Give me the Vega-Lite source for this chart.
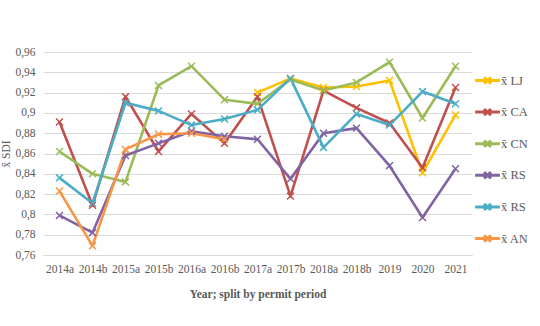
{
  "$schema": "https://vega.github.io/schema/vega-lite/v6.json",
  "width": 429,
  "height": 203,
  "autosize": {"type": "none"},
  "padding": {"left": 43, "top": 52, "right": 68, "bottom": 71},
  "background": "white",
  "config": {
    "font": "Liberation Serif",
    "view": {"stroke": null},
    "axis": {"labelColor": "#595959", "titleColor": "#595959", "labelFont": "Liberation Serif", "titleFont": "Liberation Serif"}
  },
  "data": {"values": [
    {"p":"2017a","s":"LJ","v":0.920},{"p":"2017b","s":"LJ","v":0.934},{"p":"2018a","s":"LJ","v":0.925},{"p":"2018b","s":"LJ","v":0.926},{"p":"2019","s":"LJ","v":0.932},{"p":"2020","s":"LJ","v":0.841},{"p":"2021","s":"LJ","v":0.898},
    {"p":"2014a","s":"CA","v":0.891},{"p":"2014b","s":"CA","v":0.809},{"p":"2015a","s":"CA","v":0.916},{"p":"2015b","s":"CA","v":0.862},{"p":"2016a","s":"CA","v":0.899},{"p":"2016b","s":"CA","v":0.870},{"p":"2017a","s":"CA","v":0.916},{"p":"2017b","s":"CA","v":0.818},{"p":"2018a","s":"CA","v":0.922},{"p":"2018b","s":"CA","v":0.905},{"p":"2019","s":"CA","v":0.890},{"p":"2020","s":"CA","v":0.846},{"p":"2021","s":"CA","v":0.925},
    {"p":"2014a","s":"CN","v":0.862},{"p":"2014b","s":"CN","v":0.840},{"p":"2015a","s":"CN","v":0.832},{"p":"2015b","s":"CN","v":0.927},{"p":"2016a","s":"CN","v":0.946},{"p":"2016b","s":"CN","v":0.913},{"p":"2017a","s":"CN","v":0.909},{"p":"2017b","s":"CN","v":0.933},{"p":"2018a","s":"CN","v":0.922},{"p":"2018b","s":"CN","v":0.930},{"p":"2019","s":"CN","v":0.950},{"p":"2020","s":"CN","v":0.895},{"p":"2021","s":"CN","v":0.946},
    {"p":"2014a","s":"RS1","v":0.799},{"p":"2014b","s":"RS1","v":0.782},{"p":"2015a","s":"RS1","v":0.858},{"p":"2015b","s":"RS1","v":0.870},{"p":"2016a","s":"RS1","v":0.882},{"p":"2016b","s":"RS1","v":0.877},{"p":"2017a","s":"RS1","v":0.874},{"p":"2017b","s":"RS1","v":0.835},{"p":"2018a","s":"RS1","v":0.880},{"p":"2018b","s":"RS1","v":0.885},{"p":"2019","s":"RS1","v":0.848},{"p":"2020","s":"RS1","v":0.797},{"p":"2021","s":"RS1","v":0.845},
    {"p":"2014a","s":"RS2","v":0.836},{"p":"2014b","s":"RS2","v":0.811},{"p":"2015a","s":"RS2","v":0.910},{"p":"2015b","s":"RS2","v":0.902},{"p":"2016a","s":"RS2","v":0.888},{"p":"2016b","s":"RS2","v":0.894},{"p":"2017a","s":"RS2","v":0.903},{"p":"2017b","s":"RS2","v":0.934},{"p":"2018a","s":"RS2","v":0.866},{"p":"2018b","s":"RS2","v":0.899},{"p":"2019","s":"RS2","v":0.888},{"p":"2020","s":"RS2","v":0.921},{"p":"2021","s":"RS2","v":0.909},
    {"p":"2014a","s":"AN","v":0.823},{"p":"2014b","s":"AN","v":0.769},{"p":"2015a","s":"AN","v":0.864},{"p":"2015b","s":"AN","v":0.879},{"p":"2016a","s":"AN","v":0.880},{"p":"2016b","s":"AN","v":0.874}
  ]},
  "encoding": {
    "x": {"field": "p", "type": "ordinal", "sort": null,
      "scale": {"type": "point", "padding": 0.5, "domain": ["2014a","2014b","2015a","2015b","2016a","2016b","2017a","2017b","2018a","2018b","2019","2020","2021"]},
      "axis": {"title": "Year; split by permit period", "titleFontSize": 11.5, "titleFontWeight": "bold", "titlePadding": 14, "labelAngle": 0, "labelFontSize": 11.5, "labelPadding": 8, "ticks": false, "domainColor": "#d9d9d9", "grid": false}},
    "y": {"field": "v", "type": "quantitative",
      "scale": {"domain": [0.76, 0.96], "nice": false, "zero": false},
      "axis": {"title": "x\u0304 SDI", "titleFontSize": 11.5, "titleFontWeight": "normal", "titlePadding": 3, "values": [0.76,0.78,0.8,0.82,0.84,0.86,0.88,0.9,0.92,0.94,0.96], "labelExpr": "replace(format(datum.value, '.2~f'), '.', ',')", "labelFontSize": 11.5, "labelPadding": 8, "ticks": false, "domain": false, "gridColor": "#d9d9d9"}},
    "color": {"field": "s", "type": "nominal",
      "scale": {"domain": ["LJ","CA","CN","RS1","RS2","AN"], "range": ["#FFC000","#C0504D","#9BBB59","#8064A2","#4BACC6","#F79646"]},
      "legend": {"title": null, "orient": "none", "legendX": 435, "legendY": 19, "labelExpr": "'x\u0304 ' + slice(datum.label, 0, 2)", "labelFontSize": 12.5, "labelColor": "#595959", "labelFont": "Liberation Serif", "symbolType": "M-1.6,0L1.6,0M-0.45,-0.4L0.45,0.4M-0.45,0.4L0.45,-0.4", "symbolSize": 240, "symbolStrokeWidth": 3, "symbolFillColor": "transparent", "rowPadding": 12.6, "labelOffset": 4}}
  },
  "layer": [
    {"mark": {"type": "line", "strokeWidth": 2.6, "strokeJoin": "round"}},
    {"mark": {"type": "point", "shape": "M-1,-1L1,1M-1,1L1,-1", "filled": false, "size": 48, "strokeWidth": 1.5, "opacity": 1}}
  ]
}
